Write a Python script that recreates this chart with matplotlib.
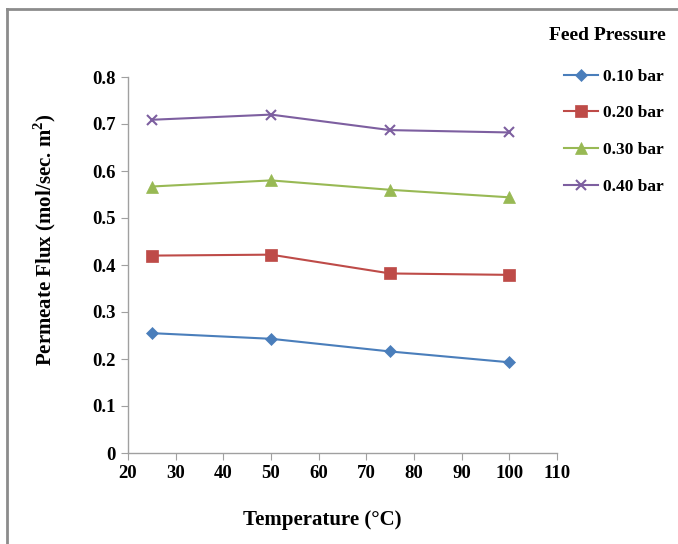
"""
Permeate flux vs temperature at different feed pressures
"""
import matplotlib
matplotlib.use('Agg')
import matplotlib.pyplot as plt
from matplotlib.lines import Line2D

plt.rcParams['font.family'] = ['Liberation Serif', 'DejaVu Serif']
plt.rcParams['font.weight'] = 'bold'
plt.rcParams['mathtext.fontset'] = 'custom'
plt.rcParams['mathtext.rm'] = 'Liberation Serif:bold'
plt.rcParams['mathtext.bf'] = 'Liberation Serif:bold'

# data
temperature = [25, 50, 75, 100]
flux_010 = [0.255, 0.243, 0.216, 0.193]
flux_020 = [0.420, 0.422, 0.382, 0.379]
flux_030 = [0.567, 0.580, 0.560, 0.544]
flux_040 = [0.709, 0.720, 0.687, 0.682]
labels = ['0.10 bar', '0.20 bar', '0.30 bar', '0.40 bar']

x_ticks = [20, 30, 40, 50, 60, 70, 80, 90, 100, 110]
y_ticks = [0, 0.1, 0.2, 0.3, 0.4, 0.5, 0.6, 0.7, 0.8]
y_ticklabels = ['0', '0.1', '0.2', '0.3', '0.4', '0.5', '0.6', '0.7', '0.8']

colors = ['#4a7ebb', '#be4b48', '#98b954', '#7d5fa0']
markers = ['D', 's', '^', 'x']
sizes = [6, 8, 8, 7]

fig = plt.figure(figsize=(6.78, 5.44), dpi=100)
ax = fig.add_axes([128 / 678, 1 - 453 / 544, 429 / 678, 376 / 544])

series = [flux_010, flux_020, flux_030, flux_040]
for vals, lab, c, m, s in zip(series, labels, colors, markers, sizes):
    ax.plot(temperature, vals, color=c, marker=m, markersize=s, linewidth=1.5,
            markeredgewidth=1.5 if m == 'x' else 0.5, label=lab)

ax.set_xlim(20, 110)
ax.set_ylim(0, 0.8)
ax.set_xticks(x_ticks)
ax.set_yticks(y_ticks)
ax.set_yticklabels(y_ticklabels)

for side in ['top', 'right']:
    ax.spines[side].set_visible(False)
for side in ['left', 'bottom']:
    ax.spines[side].set_color('#a0a0a0')
    ax.spines[side].set_linewidth(1)
ax.tick_params(direction='out', length=5, color='#a0a0a0', labelsize=13.5, pad=4)
for lbl in ax.get_xticklabels() + ax.get_yticklabels():
    lbl.set_fontweight('bold')

ax.set_xlabel('Temperature (\u00b0C)', fontsize=15, fontweight='bold')
ax.xaxis.set_label_coords((322 - 128) / 429, (453 - 520) / 376)
ax.set_ylabel('Permeate Flux (mol/sec. m$^{2}$)', fontsize=15, fontweight='bold')
ax.yaxis.set_label_coords((45 - 128) / 429, (453 - 240) / 376)
ax.xaxis.label.set_va('center')
ax.yaxis.label.set_va('center')

# legend on the right side
leg = fig.legend(loc='upper left', bbox_to_anchor=(548 / 678, 1 - 53 / 544),
                 frameon=False, fontsize=12.5, handlelength=2.0,
                 labelspacing=1.18, handletextpad=0.25)
fig.text(607 / 678, 1 - 36 / 544, 'Feed Pressure', ha='center', va='center',
         fontsize=14, fontweight='bold')

# outer chart-area border (left and top edges visible)
fig.add_artist(Line2D([7 / 678, 7 / 678], [0, 1 - 9 / 544], transform=fig.transFigure,
                      color='#8c8c8c', linewidth=2))
fig.add_artist(Line2D([7 / 678, 1], [1 - 9 / 544, 1 - 9 / 544], transform=fig.transFigure,
                      color='#8c8c8c', linewidth=2))

plt.savefig('out.png', dpi=100)
plt.close()
